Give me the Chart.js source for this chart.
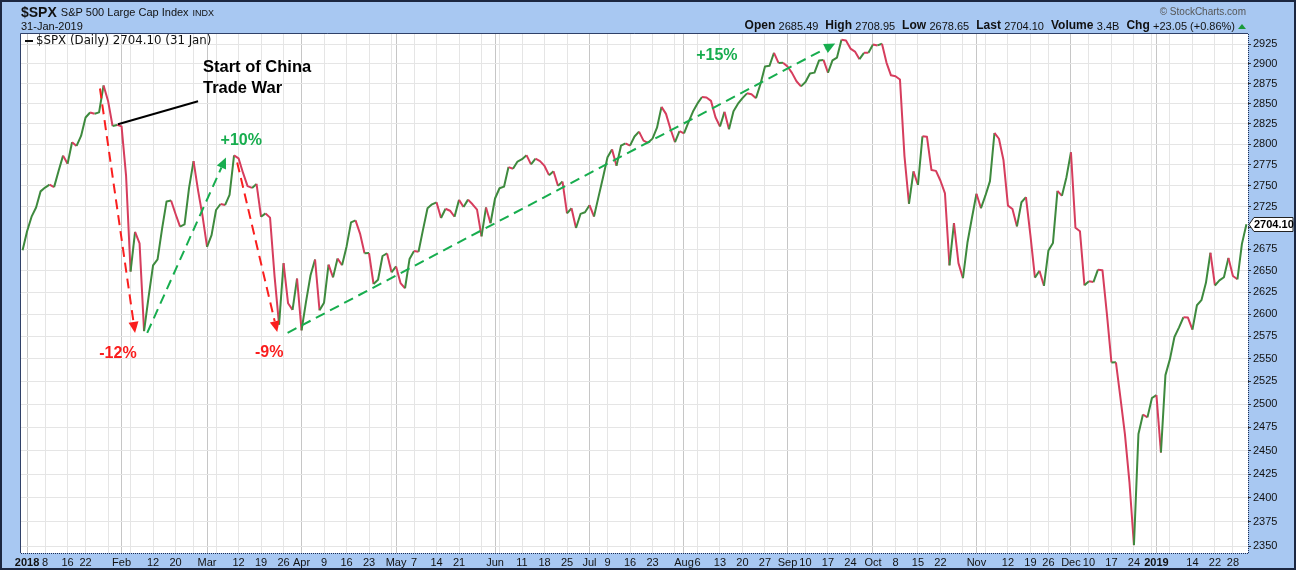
<!DOCTYPE html>
<html>
<head>
<meta charset="utf-8">
<title>$SPX S&amp;P 500 Large Cap Index</title>
<script src="https://cdn.jsdelivr.net/npm/chart.js@4.4.1/dist/chart.umd.min.js"></script>
<style>
  html, body { margin: 0; padding: 0; background: #a8c8f2; }
  #wrap { width: 1296px; height: 570px; }
  canvas { display: block; }
</style>
</head>
<body>
<div id="wrap"><canvas id="spx" width="1296" height="570"></canvas></div>
<script>
// market holidays between the first and last bar (weekdays without a close)
const holidays = [
  "2018-01-01", "2018-01-15", "2018-02-19", "2018-03-30", "2018-05-28", "2018-07-04",
  "2018-09-03", "2018-11-22", "2018-12-05", "2018-12-25", "2019-01-01", "2019-01-21"
];

// daily closes, 29 Dec 2017 .. 31 Jan 2019
const closes = [
  2673.61,
  // Jan
  2695.81, 2713.06, 2723.99, 2743.15, 2747.71, 2751.29, 2748.23, 2767.56, 2786.24, 2776.42, 2802.56,
  2798.03, 2810.30, 2832.97, 2839.13, 2837.54, 2839.25, 2872.87, 2853.53, 2822.43, 2823.81,
  // Feb
  2821.98, 2762.13, 2648.94, 2695.14, 2681.66, 2581.00, 2619.55, 2656.00, 2662.94, 2698.63,
  2731.20, 2732.22, 2716.26, 2701.33, 2703.96, 2747.30, 2779.60, 2744.28, 2713.83,
  // Mar
  2677.67, 2691.25, 2720.94, 2728.12, 2726.80, 2738.97, 2786.57, 2783.02, 2765.31, 2749.48, 2747.33,
  2752.01, 2712.92, 2716.94, 2711.93, 2643.69, 2588.26, 2658.55, 2612.62, 2605.00, 2640.87,
  // Apr
  2581.88, 2614.45, 2644.69, 2662.84, 2604.47, 2613.16, 2656.87, 2642.19, 2663.99, 2656.30, 2677.84,
  2706.39, 2708.64, 2693.13, 2670.14, 2670.29, 2634.56, 2639.40, 2666.94, 2669.91, 2648.05,
  // May
  2654.80, 2635.67, 2629.73, 2663.42, 2672.63, 2671.92, 2697.79, 2723.07, 2727.72, 2730.13, 2711.45,
  2722.46, 2720.13, 2712.97, 2733.01, 2724.44, 2733.29, 2727.76, 2721.33, 2689.86, 2724.01, 2705.27,
  // Jun
  2734.62, 2746.87, 2748.80, 2772.35, 2770.37, 2779.03, 2782.00, 2786.85, 2775.63, 2782.49, 2779.66,
  2773.75, 2762.59, 2767.32, 2749.76, 2754.88, 2717.07, 2723.06, 2699.63, 2716.31, 2718.37,
  // Jul
  2726.71, 2713.22, 2736.61, 2759.82, 2784.17, 2793.84, 2774.02, 2798.29, 2801.31, 2798.43, 2809.55,
  2815.62, 2804.49, 2801.83, 2806.98, 2820.40, 2846.07, 2837.44, 2818.82, 2802.60, 2816.29,
  // Aug
  2813.36, 2827.22, 2840.35, 2850.40, 2858.45, 2857.70, 2853.58, 2833.28, 2821.93, 2839.96, 2818.37,
  2840.69, 2850.13, 2857.05, 2862.96, 2861.82, 2856.98, 2874.69, 2896.74, 2897.52, 2914.04, 2901.13, 2901.52,
  // Sep
  2896.72, 2888.60, 2878.05, 2871.68, 2877.13, 2887.89, 2888.92, 2904.18, 2904.98, 2888.80,
  2904.31, 2907.95, 2930.75, 2929.67, 2919.37, 2915.56, 2905.97, 2914.00, 2913.98,
  // Oct
  2924.59, 2923.43, 2925.51, 2901.61, 2885.57, 2884.43, 2880.34, 2785.68, 2728.37, 2767.13, 2750.79,
  2809.92, 2809.21, 2768.78, 2767.78, 2755.88, 2740.69, 2656.10, 2705.57, 2658.69, 2641.25, 2682.63, 2711.74,
  // Nov
  2740.37, 2723.06, 2738.31, 2755.45, 2813.89, 2806.83, 2781.01, 2726.22, 2722.18, 2701.58, 2730.20,
  2736.27, 2690.73, 2641.89, 2649.93, 2632.56, 2673.45, 2682.17, 2743.79, 2737.80, 2760.17,
  // Dec
  2790.37, 2700.06, 2695.95, 2633.08, 2637.72, 2636.78, 2651.07, 2650.54, 2599.95, 2545.94,
  2546.16, 2506.96, 2467.42, 2416.62, 2351.10, 2467.70, 2488.83, 2485.74, 2506.85,
  // Jan 2019
  2510.03, 2447.89, 2531.94, 2549.69, 2574.41, 2584.96, 2596.64, 2596.26, 2582.61, 2610.30, 2616.10,
  2635.96, 2670.71, 2632.90, 2638.70, 2642.33, 2664.76, 2643.85, 2640.00, 2681.05, 2704.10
];

const yTicks = [
  2350, 2375, 2400, 2425, 2450, 2475, 2500, 2525, 2550, 2575, 2600, 2625,
  2650, 2675, 2700, 2725, 2750, 2775, 2800, 2825, 2850, 2875, 2900, 2925
];

const tickDates = [
  "2018-01-02", "2018-01-08", "2018-01-16", "2018-01-22", "2018-02-01", "2018-02-12", "2018-02-20",
  "2018-03-01", "2018-03-12", "2018-03-19", "2018-03-26", "2018-04-02", "2018-04-09", "2018-04-16",
  "2018-04-23", "2018-05-01", "2018-05-07", "2018-05-14", "2018-05-21", "2018-06-01", "2018-06-11",
  "2018-06-18", "2018-06-25", "2018-07-02", "2018-07-09", "2018-07-16", "2018-07-23", "2018-08-01",
  "2018-08-06", "2018-08-13", "2018-08-20", "2018-08-27", "2018-09-04", "2018-09-10", "2018-09-17",
  "2018-09-24", "2018-10-01", "2018-10-08", "2018-10-15", "2018-10-22", "2018-11-01", "2018-11-12",
  "2018-11-19", "2018-11-26", "2018-12-03", "2018-12-10", "2018-12-17", "2018-12-24", "2019-01-02",
  "2019-01-14", "2019-01-22", "2019-01-28"
];
const tickLabels = [
  "2018", "8", "16", "22", "Feb", "12", "20",
  "Mar", "12", "19", "26", "Apr", "9", "16",
  "23", "May", "7", "14", "21", "Jun", "11",
  "18", "25", "Jul", "9", "16", "23", "Aug",
  "6", "13", "20", "27", "Sep", "10", "17",
  "24", "Oct", "8", "15", "22", "Nov", "12",
  "19", "26", "Dec", "10", "17", "24", "2019",
  "14", "22", "28"
];

const UP = "#3e8a3e";
const DOWN = "#d63d5d";
const RED = "#fa1e1e";
const GREEN = "#17ad4e";
const SANS = "'Liberation Sans', Arial, sans-serif";

// annotation arrows and notes, in (bar index, price)
const arrows = [
  { from: [17.2, 2869], to: [25.0, 2579], color: RED },
  { from: [27.7, 2579], to: [45.2, 2784], color: GREEN },
  { from: [47.7, 2778], to: [56.6, 2580], color: RED },
  { from: [58.9, 2579], to: [180.6, 2926], color: GREEN }
];
const notes = [
  { text: "-12%", at: [21.2, 2556], color: RED },
  { text: "+10%", at: [48.6, 2805], color: GREEN },
  { text: "-9%", at: [54.8, 2557], color: RED },
  { text: "+15%", at: [154.3, 2910], color: GREEN }
];

// trading dates from the calendar minus weekends and holidays
const dates = [];
for (let d = new Date(Date.UTC(2017, 11, 29)); d <= new Date(Date.UTC(2019, 0, 31)); d.setUTCDate(d.getUTCDate() + 1)) {
  const s = d.toISOString().slice(0, 10);
  const dow = d.getUTCDay();
  if (dow === 0 || dow === 6 || holidays.includes(s)) continue;
  dates.push(s);
}

// vertical grid: first bar of every week and every month
const gridLines = [];
dates.forEach((s, i) => {
  if (i === 0) return;
  const p = dates[i - 1];
  const newMonth = s.slice(5, 7) !== p.slice(5, 7);
  const newWeek = new Date(s).getUTCDay() < new Date(p).getUTCDay();
  if (newMonth || newWeek) gridLines.push({ i, month: newMonth });
});
const monthIdx = new Set(gridLines.filter(g => g.month).map(g => g.i));
const labelAt = new Map();
tickDates.forEach((s, k) => labelAt.set(dates.indexOf(s), tickLabels[k]));

const last = closes[closes.length - 1];

const backdrop = {
  id: "backdrop",
  beforeDraw(chart) {
    const { ctx, chartArea: a, width, height } = chart;
    ctx.save();
    ctx.fillStyle = "#a8c8f2";
    ctx.fillRect(0, 0, width, height);
    ctx.fillStyle = "#ffffff";
    ctx.fillRect(a.left, a.top, a.right - a.left, a.bottom - a.top);
    ctx.restore();
  }
};

function arrowTo(ctx, p0, p1, color) {
  const dx = p1.x - p0.x, dy = p1.y - p0.y;
  const len = Math.hypot(dx, dy);
  const ux = dx / len, uy = dy / len;
  const head = 11, half = 5;
  const bx = p1.x - ux * head, by = p1.y - uy * head;
  ctx.strokeStyle = color;
  ctx.fillStyle = color;
  ctx.lineWidth = 2;
  ctx.setLineDash([10, 6]);
  ctx.beginPath();
  ctx.moveTo(p0.x, p0.y);
  ctx.lineTo(bx, by);
  ctx.stroke();
  ctx.setLineDash([]);
  ctx.beginPath();
  ctx.moveTo(p1.x, p1.y);
  ctx.lineTo(bx - uy * half, by + ux * half);
  ctx.lineTo(bx + uy * half, by - ux * half);
  ctx.closePath();
  ctx.fill();
}

const markup = {
  id: "markup",
  afterDatasetsDraw(chart) {
    const { ctx, scales: { x, y } } = chart;
    const pt = ([i, v]) => ({ x: x.getPixelForValue(i), y: y.getPixelForValue(v) });
    ctx.save();
    arrows.forEach(a => arrowTo(ctx, pt(a.from), pt(a.to), a.color));

    ctx.font = "bold 16px " + SANS;
    ctx.textAlign = "center";
    ctx.textBaseline = "middle";
    notes.forEach(n => {
      const p = pt(n.at);
      ctx.fillStyle = n.color;
      ctx.fillText(n.text, p.x, p.y);
    });

    // pointer to the trade war start
    const a0 = pt([21.2, 2824.7]), a1 = pt([39.0, 2853.2]);
    ctx.strokeStyle = "#000";
    ctx.lineWidth = 2;
    ctx.beginPath();
    ctx.moveTo(a0.x, a0.y);
    ctx.lineTo(a1.x, a1.y);
    ctx.stroke();
    ctx.fillStyle = "#000";
    ctx.textAlign = "left";
    ctx.font = "bold 16.5px " + SANS;
    const t0 = pt([40.1, 2895.8]), t1 = pt([40.1, 2869.4]);
    ctx.fillText("Start of China", t0.x, t0.y);
    ctx.fillText("Trade War", t1.x, t1.y);
    ctx.restore();
  },
  afterDraw(chart) {
    const { ctx, chartArea: a, width, height, scales: { y } } = chart;
    ctx.save();

    // plot frame: solid top/left, dotted axis lines bottom/right
    ctx.strokeStyle = "#2f4068";
    ctx.lineWidth = 1;
    ctx.beginPath();
    ctx.moveTo(a.left - 0.5, a.bottom);
    ctx.lineTo(a.left - 0.5, a.top - 0.5);
    ctx.lineTo(a.right, a.top - 0.5);
    ctx.stroke();
    ctx.strokeStyle = "#1d2b52";
    ctx.setLineDash([1, 1]);
    ctx.beginPath();
    ctx.moveTo(a.left, a.bottom + 0.5);
    ctx.lineTo(a.right + 1, a.bottom + 0.5);
    ctx.moveTo(a.right + 0.5, a.top);
    ctx.lineTo(a.right + 0.5, a.bottom + 1);
    ctx.stroke();
    ctx.setLineDash([]);

    // outer frame
    ctx.strokeStyle = "#1c2740";
    ctx.lineWidth = 2;
    ctx.strokeRect(1, 1, width - 2, height - 2);

    // title block
    ctx.textBaseline = "middle";
    ctx.textAlign = "left";
    ctx.fillStyle = "#111";
    ctx.font = "bold 14px " + SANS;
    ctx.fillText("$SPX", 21, 13);
    let xx = 21 + ctx.measureText("$SPX").width + 4;
    ctx.font = "11px " + SANS;
    ctx.fillText("S&P 500 Large Cap Index", xx, 13);
    xx += ctx.measureText("S&P 500 Large Cap Index").width + 4;
    ctx.font = "9px " + SANS;
    ctx.fillText("INDX", xx, 13.5);
    ctx.font = "11px " + SANS;
    ctx.fillText("31-Jan-2019", 21, 27);

    ctx.textAlign = "right";
    ctx.fillStyle = "#555";
    ctx.font = "10px " + SANS;
    ctx.fillText("\u00a9 StockCharts.com", 1246, 12);

    const parts = [["Open", "2685.49"], ["High", "2708.95"], ["Low", "2678.65"], ["Last", "2704.10"], ["Volume", "3.4B"], ["Chg", "+23.05 (+0.86%)"]];
    const bold = "bold 12px " + SANS, thin = "11px " + SANS;
    let total = 0;
    parts.forEach(([k, v], n) => {
      ctx.font = bold; total += ctx.measureText(k + " ").width;
      ctx.font = thin; total += ctx.measureText(v).width + (n < parts.length - 1 ? 7 : 0);
    });
    ctx.textAlign = "left";
    ctx.fillStyle = "#111";
    xx = 1235 - total;
    parts.forEach(([k, v]) => {
      ctx.font = bold; ctx.fillText(k + " ", xx, 26); xx += ctx.measureText(k + " ").width;
      ctx.font = thin; ctx.fillText(v, xx, 26.5); xx += ctx.measureText(v).width + 7;
    });
    ctx.fillStyle = "#1a9a3a";
    ctx.beginPath();
    ctx.moveTo(1238, 29); ctx.lineTo(1246, 29); ctx.lineTo(1242, 24); ctx.closePath();
    ctx.fill();

    // series legend inside the plot
    ctx.strokeStyle = "#111";
    ctx.lineWidth = 2;
    ctx.beginPath();
    ctx.moveTo(25, 41); ctx.lineTo(33, 41);
    ctx.stroke();
    ctx.fillStyle = "#111";
    ctx.font = "11.8px 'DejaVu Sans', Verdana, sans-serif";
    ctx.fillText("$SPX (Daily) 2704.10 (31 Jan)", 36, 41);

    // last value tag on the price axis
    const py = Math.round(y.getPixelForValue(last)) + 0.5;
    ctx.beginPath();
    ctx.moveTo(a.right + 1, py);
    ctx.lineTo(a.right + 6, py - 7);
    ctx.lineTo(width - 3, py - 7);
    ctx.lineTo(width - 3, py + 7);
    ctx.lineTo(a.right + 6, py + 7);
    ctx.closePath();
    ctx.fillStyle = "#fff";
    ctx.fill();
    ctx.strokeStyle = "#222";
    ctx.lineWidth = 1;
    ctx.stroke();
    ctx.fillStyle = "#000";
    ctx.font = "bold 11px " + SANS;
    ctx.fillText(last.toFixed(2), a.right + 6, py + 0.5);
    ctx.restore();
  }
};

new Chart(document.getElementById("spx"), {
  type: "line",
  data: {
    datasets: [{
      label: "$SPX (Daily)",
      data: closes.map((v, i) => ({ x: i, y: v })),
      borderColor: UP,
      borderWidth: 2,
      pointRadius: 0,
      tension: 0,
      borderJoinStyle: "round",
      segment: { borderColor: c => (c.p1.parsed.y >= c.p0.parsed.y ? UP : DOWN) }
    }]
  },
  options: {
    responsive: false,
    animation: false,
    layout: { padding: { left: 21, top: 34, right: 0, bottom: 0 } },
    plugins: { legend: { display: false }, tooltip: { enabled: false } },
    scales: {
      x: {
        type: "linear",
        min: -0.35,
        max: closes.length - 1 + 0.35,
        afterBuildTicks: s => { s.ticks = gridLines.map(g => ({ value: g.i })); },
        afterFit: s => { s.height = 17; },
        ticks: {
          autoSkip: false,
          maxRotation: 0,
          padding: 3,
          color: "#111",
          font: c => ({ family: SANS, size: 11, weight: /^[A-Z0-9]{3,4}$/.test(labelAt.get(c.tick && c.tick.value) || "") ? "bold" : "normal" }),
          callback: v => labelAt.get(v) || ""
        },
        grid: {
          drawTicks: false,
          color: c => (c.tick && monthIdx.has(c.tick.value) ? "#c6c6c6" : "#e5e5e5")
        },
        border: { display: false }
      },
      y: {
        type: "logarithmic",
        position: "right",
        min: 2343,
        max: 2938,
        afterBuildTicks: s => { s.ticks = yTicks.map(v => ({ value: v })); },
        afterFit: s => { s.width = 48; },
        ticks: {
          autoSkip: false,
          padding: 2,
          color: "#111",
          font: { family: SANS, size: 11 },
          callback: v => (Math.abs(v - last) < 12 ? "" : String(v))
        },
        grid: { color: "#e5e5e5", tickLength: 3, tickColor: "#333" },
        border: { display: false }
      }
    }
  },
  plugins: [backdrop, markup]
});
</script>
</body>
</html>
